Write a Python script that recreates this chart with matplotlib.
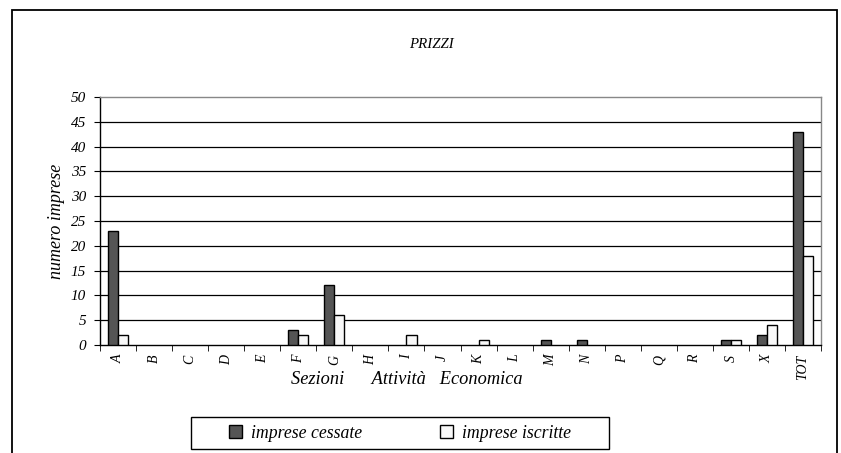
import matplotlib
matplotlib.use("Agg")
import matplotlib.pyplot as plt
import matplotlib.patches as mpatches
import numpy as np

plt.rcParams['font.family'] = ['Liberation Serif', 'DejaVu Serif']
plt.rcParams['font.style'] = 'italic'

categories = ["A", "B", "C", "D", "E", "F", "G", "H", "I", "J", "K", "L",
              "M", "N", "P", "Q", "R", "S", "X", "TOT"]
cessate = [23, 0, 0, 0, 0, 3, 12, 0, 0, 0, 0, 0, 1, 1, 0, 0, 0, 1, 2, 43]
iscritte = [2, 0, 0, 0, 0, 2, 6, 0, 2, 0, 1, 0, 0, 0, 0, 0, 0, 1, 4, 18]
yticks = [0, 5, 10, 15, 20, 25, 30, 35, 40, 45, 50]

W, H = 841, 453
fig = plt.figure(figsize=(W / 100, H / 100), dpi=100)

# outer frame
fig.patches.append(mpatches.Rectangle((12 / W, -0.05), (837 - 12) / W, (H - 10) / H + 0.05,
                                      transform=fig.transFigure, fill=False,
                                      edgecolor='black', linewidth=1.3, clip_on=False))

ax = fig.add_axes([100 / W, (H - 345) / H, (821 - 100) / W, (345 - 97) / H])
n = len(categories)
x = np.arange(n)
bw = 0.28
b1 = ax.bar(x - bw / 2, cessate, bw, color='#555555', edgecolor='black', linewidth=1.0,
            label='imprese cessate', zorder=3)
b2 = ax.bar(x + bw / 2, iscritte, bw, color='#f8f8f8', edgecolor='black', linewidth=1.0,
            label='imprese iscritte', zorder=3)
for bars, vals in ((b1, cessate), (b2, iscritte)):
    for p, v in zip(bars.patches, vals):
        if v == 0:
            p.set_visible(False)

ax.set_xlim(-0.5, n - 0.5)
ax.set_ylim(0, 50)
ax.set_yticks(yticks)
ax.set_yticklabels([str(v) for v in yticks], fontsize=11)
for v in yticks[1:-1]:
    ax.axhline(v, color='black', linewidth=0.9, zorder=1)

ax.set_xticks(x)
ax.set_xticklabels(categories, rotation=90, fontsize=10)
ax.set_xticks(np.arange(n + 1) - 0.5, minor=True)
ax.tick_params(axis='x', which='major', length=0, pad=7)
ax.tick_params(axis='x', which='minor', length=4, direction='out', color='black')
ax.tick_params(axis='y', length=4, direction='out', color='black', pad=6)

ax.spines['left'].set_color('black')
ax.spines['bottom'].set_color('black')
ax.spines['top'].set_color('#888888')
ax.spines['right'].set_color('#888888')
for s in ax.spines.values():
    s.set_linewidth(1.0)

ax.set_ylabel('numero imprese', fontsize=13, labelpad=4)
fig.text(431 / W, 1 - 45 / H, 'PRIZZI', ha='center', va='center', fontsize=10.7)
fig.text(407 / W, 1 - 380 / H, 'Sezioni      Attività   Economica', ha='center',
         va='center', fontsize=13.2)

# legend box
fig.patches.append(mpatches.Rectangle((191 / W, 1 - 449 / H), (609 - 191) / W, 32 / H,
                                      transform=fig.transFigure, fill=False,
                                      edgecolor='black', linewidth=1.0))
handles, labels = ax.get_legend_handles_labels()
leg = fig.legend(handles, labels, loc='center',
                 bbox_to_anchor=(400 / W, 1 - 433 / H), ncol=2,
                 fontsize=12.8, frameon=False, handlelength=0.7, handleheight=0.7,
                 handletextpad=0.5, borderaxespad=0, columnspacing=4.4)

fig.savefig('out.png', dpi=100)
